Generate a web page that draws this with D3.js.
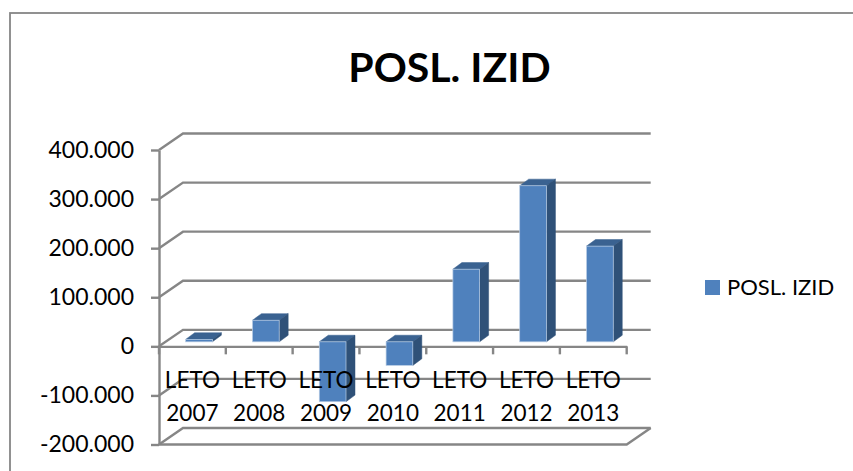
<!DOCTYPE html>
<html>
<head>
<meta charset="utf-8">
<script src="https://cdn.jsdelivr.net/npm/d3@7"></script>
<style>
  html, body { margin: 0; padding: 0; background: #fff; overflow: hidden; }
  svg { display: block; }
  text { font-family: Lato, "Open Sans", sans-serif; fill: #000; }
</style>
</head>
<body>
<div id="chart"></div>
<script>
const title = "POSL. IZID";
const seriesName = "POSL. IZID";
const categories = [["LETO", "2007"], ["LETO", "2008"], ["LETO", "2009"], ["LETO", "2010"], ["LETO", "2011"], ["LETO", "2012"], ["LETO", "2013"]];
const values = [5000, 44000, -122000, -48000, 148000, 318000, 195000];
const yTicks = [-200000, -100000, 0, 100000, 200000, 300000, 400000];

const width = 853, height = 471;
const wallDx = 24, wallDy = -16.5;   // depth of the 3d box
const barDx = 6.6, barDy = -4.5;     // where the bars front face sits in the box
const sideDx = 9, sideDy = -6.6;     // depth of one bar
const gridColor = "#868686";
const lineWidth = 2.4;

const svg = d3.select("#chart").append("svg")
  .attr("width", width)
  .attr("height", height);

// chart frame, runs off the right and bottom of the picture
svg.append("rect")
  .attr("x", 10).attr("y", 13)
  .attr("width", 860).attr("height", 480)
  .attr("fill", "#fff")
  .attr("stroke", gridColor)
  .attr("stroke-width", 1.8);

svg.append("text")
  .attr("x", 449.5).attr("y", 82)
  .attr("text-anchor", "middle")
  .style("font-size", "41px")
  .style("font-weight", "bold")
  .text(title);

const y = d3.scaleLinear().domain([-200000, 400000]).range([444.5, 150]);
const x = d3.scaleBand().domain(d3.range(categories.length)).range([159, 626.7]);
const xBar = d3.scaleBand().domain(d3.range(categories.length)).range([159, 626.7])
  .paddingInner(0.6).paddingOuter(0.3);

// back wall gridlines with the slanted piece on the left wall
const grid = svg.append("g").attr("fill", "none").attr("stroke", gridColor).attr("stroke-width", lineWidth);
yTicks.forEach(t => {
  const line = d3.line()([
    [x.range()[0], y(t)],
    [x.range()[0] + wallDx, y(t) + wallDy],
    [x.range()[1] + wallDx, y(t) + wallDy]
  ]);
  grid.append("path").attr("d", line);
});
// floor, front and right edge
grid.append("path").attr("d", d3.line()([
  [x.range()[0], y(-200000)],
  [x.range()[1], y(-200000)],
  [x.range()[1] + wallDx, y(-200000) + wallDy]
]));

// value axis
const yAxis = d3.axisLeft(y)
  .tickValues(yTicks)
  .tickSize(8)
  .tickPadding(17)
  .tickSizeOuter(0)
  .tickFormat(d => d3.format(",")(d).replace(/,/g, ".").replace("−", "-"));
const yG = svg.append("g")
  .attr("transform", `translate(${x.range()[0]},0)`)
  .call(yAxis);
yG.selectAll("path, line").attr("stroke", gridColor).attr("stroke-width", lineWidth);
yG.selectAll("text").style("font-size", "23px").attr("fill", "#000");

// category axis on the zero plane
const xAxis = d3.axisBottom(x).tickSize(0).tickFormat("");
const xG = svg.append("g")
  .attr("transform", `translate(0,${y(0)})`)
  .call(xAxis);
xG.select("path").attr("stroke", gridColor).attr("stroke-width", lineWidth);
xG.selectAll(".tick").remove();
xG.selectAll("line.edge")
  .data(d3.range(categories.length + 1))
  .enter().append("line")
  .attr("class", "edge")
  .attr("x1", i => x.range()[0] + i * x.step())
  .attr("x2", i => x.range()[0] + i * x.step())
  .attr("y1", 0).attr("y2", 8)
  .attr("stroke", gridColor).attr("stroke-width", lineWidth);

// bars
const bars = svg.append("g").selectAll("g")
  .data(values)
  .enter().append("g")
  .attr("transform", `translate(${barDx},${barDy})`);

const barTop = d => Math.min(y(d), y(0));
const barBottom = d => Math.max(y(d), y(0));
const barEdge = "#b9cde5";

bars.append("path")
  .attr("fill", "#3a6291")
  .attr("stroke", "#3a6291")
  .attr("stroke-width", 0.5)
  .attr("d", (d, i) => {
    const l = xBar(i), r = l + xBar.bandwidth(), t = barTop(d);
    return d3.line()([[l, t], [l + sideDx, t + sideDy], [r + sideDx, t + sideDy], [r, t]]) + "Z";
  });
bars.append("path")
  .attr("fill", "#2f5178")
  .attr("stroke", "#2f5178")
  .attr("stroke-width", 0.5)
  .attr("d", (d, i) => {
    const r = xBar(i) + xBar.bandwidth(), t = barTop(d), b = barBottom(d);
    return d3.line()([[r, t], [r + sideDx, t + sideDy], [r + sideDx, b + sideDy], [r, b]]) + "Z";
  });
bars.append("rect")
  .attr("x", (d, i) => xBar(i))
  .attr("y", barTop)
  .attr("width", xBar.bandwidth())
  .attr("height", d => barBottom(d) - barTop(d))
  .attr("fill", "#4f81bd")
  .attr("stroke", barEdge)
  .attr("stroke-width", 0.7);

// category labels sit on top of the bars
const labels = svg.append("g").selectAll("text")
  .data(categories)
  .enter().append("text")
  .attr("text-anchor", "middle")
  .style("font-size", "22.5px");
labels.append("tspan")
  .attr("x", (d, i) => x(i) + x.bandwidth() / 2)
  .attr("y", 388)
  .text(d => d[0]);
labels.append("tspan")
  .attr("x", (d, i) => x(i) + x.bandwidth() / 2)
  .attr("y", 421)
  .text(d => d[1]);

// legend
svg.append("rect")
  .attr("x", 705).attr("y", 280)
  .attr("width", 15).attr("height", 15)
  .attr("fill", "#4f81bd");
svg.append("text")
  .attr("x", 727).attr("y", 295)
  .style("font-size", "22px")
  .text(seriesName);
</script>
</body>
</html>
